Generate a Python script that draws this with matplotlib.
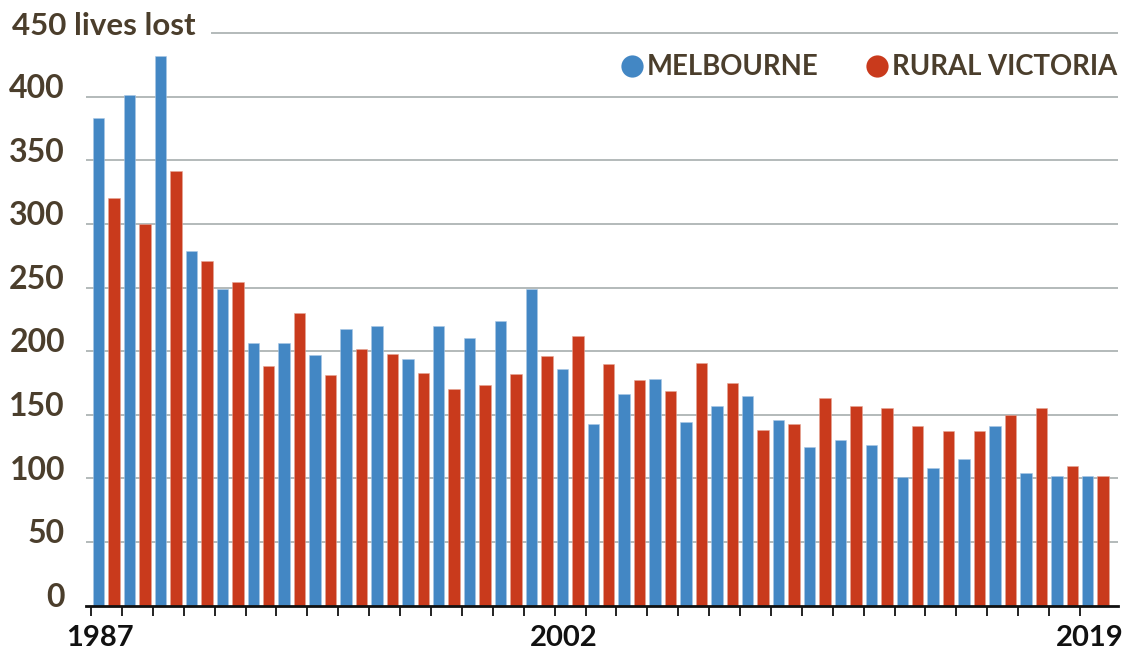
import matplotlib
matplotlib.use("Agg")
import matplotlib.pyplot as plt
from matplotlib.lines import Line2D
import numpy as np

years = list(range(1987, 2020))
melbourne = [383, 401, 432, 279, 249, 206, 206, 197, 217, 220, 194, 220, 210, 224, 249,
             186, 143, 166, 178, 144, 157, 165, 146, 125, 130, 126, 101, 108, 115, 141,
             104, 102, 102]
rural = [320, 300, 342, 271, 254, 188, 230, 181, 202, 198, 183, 170, 173, 182, 196,
         212, 190, 177, 169, 191, 175, 138, 143, 163, 157, 155, 141, 137, 137, 150,
         155, 110, 102]
yticks = [0, 50, 100, 150, 200, 250, 300, 350, 400, 450]
shown_year_labels = {1987: "1987", 2002: "2002", 2019: "2019"}
series_names = ["MELBOURNE", "RURAL VICTORIA"]

BLUE = "#4387c4"
RED = "#c93a1c"
TXT = "#4b3e2c"
GRID = "#b3baba"
FONT = "Lato"

W, H = 1128, 651
fig = plt.figure(figsize=(W / 100, H / 100), dpi=100)

ax_left, ax_right = 86, 1118
ax_bottom_px, ax_top_px = 605.5, 30.6
ax = fig.add_axes([ax_left / W, (H - ax_bottom_px) / H,
                   (ax_right - ax_left) / W, (ax_bottom_px - ax_top_px) / H])

x = np.arange(len(years))
bw = 0.37
ax.bar(x - 0.25, melbourne, width=bw, color=BLUE, edgecolor="#a9c8e6",
       linewidth=0.4, zorder=3)
ax.bar(x + 0.25, rural, width=bw, color=RED, edgecolor="#e6a595",
       linewidth=0.4, zorder=3)

ax.set_xlim(-0.663, 32.73)
ax.set_ylim(0, 452)

# gridlines (450 line starts right of its label)
for v in yticks[1:]:
    if v == 450:
        xstart = (212 - ax_left) / (ax_right - ax_left)
    else:
        xstart = 0
    ax.axhline(v, xmin=xstart, xmax=1, color=GRID, lw=1.4, zorder=1)

# y labels
ytrans = ax.get_yaxis_transform()
for v in yticks:
    if v == 450:
        ax.text((12 - ax_left) / (ax_right - ax_left), v + 5.5, "450 lives lost",
                transform=ytrans, ha="left", va="center", fontsize=22.5,
                fontweight="bold", color=TXT, family=FONT, clip_on=False)
    else:
        ax.text((65 - ax_left) / (ax_right - ax_left), v + 6.5, str(v),
                transform=ytrans, ha="right", va="center", fontsize=23,
                fontweight="bold", color=TXT, family=FONT, clip_on=False)

ax.set_yticks([])
for s in ["left", "right", "top"]:
    ax.spines[s].set_visible(False)
ax.spines["bottom"].set_color("#111111")
ax.spines["bottom"].set_linewidth(2.0)
ax.spines["bottom"].set_zorder(5)

# x ticks at group boundaries
ax.set_xticks(x - 0.5)
ax.set_xticklabels([])
ax.tick_params(axis="x", length=7, width=1.3, color="#111111", direction="out")

# year labels, placed in figure pixels so they stay inside the canvas
for i, yr in enumerate(years):
    if yr in shown_year_labels:
        ax.annotate(shown_year_labels[yr], xy=(i - 0.2, 0), xycoords=("data", "axes fraction"),
                    xytext=(0, -19), textcoords="offset pixels",
                    ha="center", va="top", fontsize=21, fontweight="bold",
                    color="#111111", family=FONT, annotation_clip=False)

# legend
def fx(px):
    return px / W

def fy(py):
    return (H - py) / H

for cx, tx, col, name in [(632, 647, BLUE, series_names[0]),
                          (877, 892, RED, series_names[1])]:
    fig.add_artist(Line2D([fx(cx)], [fy(66)], marker="o", markersize=16,
                          color=col, markeredgewidth=0, transform=fig.transFigure))
    fig.text(fx(tx), fy(67), name, ha="left", va="center", fontsize=19.8,
             fontweight="bold", color=TXT, family=FONT)

fig.savefig("out.png", dpi=100, facecolor="white")
